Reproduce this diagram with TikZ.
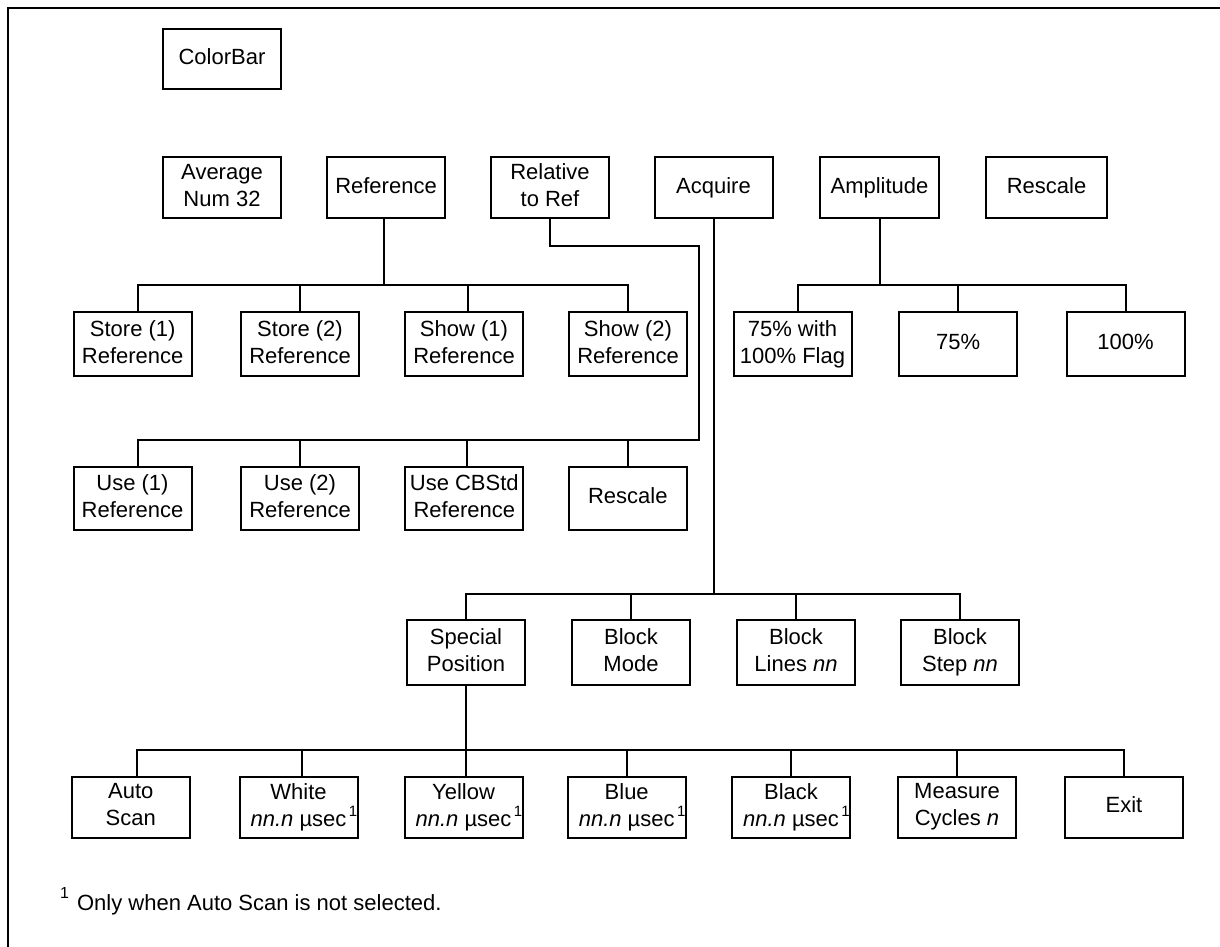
\documentclass[tikz,border=0pt]{standalone}
\usepackage{fontspec}
\setmainfont{Liberation Sans}
% raised footnote mark set after a line, without shifting its centring
\newcommand{\supone}{\rlap{\hspace{2.5pt}\raisebox{10pt}{\fontsize{15}{15}\selectfont 1}}}
\begin{document}
\begin{tikzpicture}[x=1pt,y=-1pt,
  menubox/.style={draw, line width=2pt, align=center, inner sep=0pt,
                  minimum width=118pt, font=\fontsize{22}{27}\selectfont,
                  execute at end node={\vphantom{p}}},
  oneline/.style={text height=16pt, text depth=4.7pt},
  conn/.style={line width=2pt},
]
\useasboundingbox (0,0) rectangle (1220,947);

% page frame (top and left edges)
\draw[line width=2pt] (8,947) -- (8,8) -- (1220,8);

% bus lines of the menu tree
\coordinate (busA) at (0,285);
\coordinate (busB) at (0,440);
\coordinate (busC) at (0,593.5);
\coordinate (busD) at (0,749.5);
\coordinate (relturn) at (699.3,246);

% top level
\node[menubox, oneline, minimum height=60pt] (colorbar) at (222,59) {ColorBar};
\begin{scope}[every node/.append style={minimum height=61pt}]
\node[menubox] (avg)  at (222,187.7)  {Average\\Num 32};
\node[menubox, oneline] (ref)  at (386,187.7)  {Reference};
\node[menubox] (rel)  at (550,187.7)  {Relative\\to Ref};
\node[menubox, oneline] (acq)  at (713.5,187.7) {Acquire};
\node[menubox, oneline, minimum width=119pt] (amp)  at (879.5,187.7) {Amplitude};
\node[menubox, oneline, minimum width=121pt] (resc) at (1046.5,187.7) {Rescale};
\end{scope}

% reference and amplitude submenus
\begin{scope}[every node/.append style={minimum height=64pt, minimum width=119pt}]
\node[menubox] (st1)  at (132.7,344) {Store (1)\\Reference};
\node[menubox] (st2)  at (300,344)   {Store (2)\\Reference};
\node[menubox] (sh1)  at (464,344)   {Show (1)\\Reference};
\node[menubox] (sh2)  at (628,344)   {Show (2)\\Reference};
\node[menubox] (a75f) at (792.5,344) {75\% with\\100\% Flag};
\node[menubox, oneline] (a75)  at (958.2,344) {75\%};
\node[menubox, oneline] (a100) at (1125.5,344) {100\%};
\end{scope}

% relative-to-reference submenu
\begin{scope}[every node/.append style={minimum height=63pt}]
\node[menubox] (u1)    at (132.5,498) {Use (1)\\Reference};
\node[menubox] (u2)    at (300,498)   {Use (2)\\Reference};
\node[menubox] (ucb)   at (464.3,498) {Use CBStd\\Reference};
\node[menubox, oneline] (resc2) at (627.8,498) {Rescale};
\end{scope}

% acquire submenu
\begin{scope}[every node/.append style={minimum height=65pt, minimum width=125pt}]
\node[menubox] (spec)   at (466,652.5) {Special\\Position};
\node[menubox] (bmode)  at (631,652.5) {Block\\Mode};
\node[menubox] (blines) at (796,652.5) {Block\\Lines \textit{nn}};
\node[menubox] (bstep)  at (960,652.5) {Block\\Step \textit{nn}};
\end{scope}

% special position submenu
\begin{scope}[every node/.append style={minimum height=61pt, minimum width=119pt}]
\node[menubox] (auto)   at (130.8,807) {Auto\\Scan};
\node[menubox] (white)  at (298.5,807) {White\\\textit{nn.n} µsec\supone};
\node[menubox] (yellow) at (463.5,807) {Yellow\\\textit{nn.n} µsec\supone};
\node[menubox] (blue)   at (626.7,807) {Blue\\\textit{nn.n} µsec\supone};
\node[menubox] (black)  at (791,807)   {Black\\\textit{nn.n} µsec\supone};
\node[menubox] (meas)   at (957,807)   {Measure\\Cycles \textit{n}};
\node[menubox, oneline] (exit)   at (1124,807)  {Exit};
\end{scope}

% footnote
\node[anchor=base west, inner sep=0pt, font=\fontsize{22}{27}\selectfont] (fnote) at (60,910)
  {\raisebox{12pt}{\fontsize{16}{16}\selectfont 1}\hspace{8pt}Only when Auto Scan is not selected.};

% Reference -> Store/Show
\draw[conn] ([xshift=-2pt]ref.south) -- ([xshift=-2pt]ref.south |- busA);
\draw[conn] ([xshift=5pt]st1.north) |- (sh2.north |- busA) -- (sh2.north);
\draw[conn] (st2.north) -- (st2.north |- busA);
\draw[conn] ([xshift=4pt]sh1.north) -- ([xshift=4pt]sh1.north |- busA);

% Relative to Ref -> Use/Rescale
\draw[conn] (rel.south) |- (relturn) -- (relturn |- busB) -| ([xshift=5pt]u1.north);
\draw[conn] (u2.north) -- (u2.north |- busB);
\draw[conn] ([xshift=3pt]ucb.north) -- ([xshift=3pt]ucb.north |- busB);
\draw[conn] (resc2.north) -- (resc2.north |- busB);

% Amplitude -> levels
\draw[conn] (amp.south) -- (amp.south |- busA);
\draw[conn] ([xshift=5pt]a75f.north) |- (a100.north |- busA) -- (a100.north);
\draw[conn] (a75.north) -- (a75.north |- busA);

% Acquire -> block options
\draw[conn] (acq.south) -- (acq.south |- busC);
\draw[conn] (spec.north) |- (bstep.north |- busC) -- (bstep.north);
\draw[conn] (bmode.north) -- (bmode.north |- busC);
\draw[conn] (blines.north) -- (blines.north |- busC);

% Special Position -> positions
\draw[conn] (spec.south) -- (spec.south |- busD);
\draw[conn] ([xshift=6pt]auto.north) |- (exit.north |- busD) -- (exit.north);
\draw[conn] ([xshift=3.5pt]white.north) -- ([xshift=3.5pt]white.north |- busD);
\draw[conn] ([xshift=2.5pt]yellow.north) -- ([xshift=2.5pt]yellow.north |- busD);
\draw[conn] (blue.north) -- (blue.north |- busD);
\draw[conn] (black.north) -- (black.north |- busD);
\draw[conn] (meas.north) -- (meas.north |- busD);
\end{tikzpicture}
\end{document}
